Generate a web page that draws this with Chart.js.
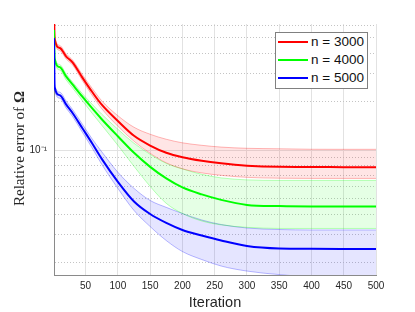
<!DOCTYPE html>
<html>
<head>
<meta charset="utf-8">
<script src="https://cdn.jsdelivr.net/npm/chart.js@4"></script>
<style>
  body { margin: 0; background: #fff; }
  #wrap { position: relative; width: 415px; height: 312px; }
  #ytitle {
    position: absolute; left: 11px; top: 87px; height: 124px; width: 16px;
    writing-mode: vertical-rl; transform: rotate(180deg);
    text-align: center; white-space: nowrap;
    font: normal 15px "Liberation Serif", serif; color: #262626;
  }
  #legend {
    position: absolute; left: 275px; top: 32px; width: 91px; height: 55px;
    border: 1px solid #808080; background: #fff;
    font: 13.5px "Liberation Sans", Arial, sans-serif; color: #111;
  }
  #legend .ln { position: absolute; left: 2px; width: 30px; height: 2px; }
  #legend .tx { position: absolute; left: 35px; line-height: 16px; white-space: nowrap; }
</style>
</head>
<body>
<div id="wrap">
  <canvas id="chart" width="415" height="312"></canvas>
  <div id="ytitle">Relative error of <b>Ω</b></div>
  <div id="legend"></div>
</div>
<script>
const iterations = [1, 2, 10, 20, 30, 45, 60, 75, 100, 125, 150, 175, 200, 230, 260, 300, 350, 400, 450, 500];

const names = ["n = 3000", "n = 4000", "n = 5000"];
const colors = ["#ff0000", "#00ff00", "#0000ff"];

const mean3000 = [0.75, 0.494, 0.432, 0.382, 0.351, 0.283, 0.231, 0.192, 0.152, 0.123, 0.107, 0.0965, 0.0905, 0.086, 0.083, 0.0803, 0.0789, 0.0787, 0.0786, 0.0785];
const upper3000 = [0.78, 0.513, 0.448, 0.396, 0.363, 0.295, 0.243, 0.203, 0.164, 0.139, 0.1258, 0.1171, 0.1113, 0.1074, 0.1047, 0.1029, 0.1022, 0.1015, 0.1014, 0.1014];
const lower3000 = [0.72, 0.477, 0.4165, 0.3687, 0.338, 0.2709, 0.22, 0.1813, 0.1411, 0.1138, 0.0958, 0.0836, 0.0767, 0.0724, 0.0699, 0.0679, 0.0671, 0.0669, 0.0669, 0.0669];

const mean4000 = [0.559, 0.3713, 0.3287, 0.2869, 0.2557, 0.2154, 0.1826, 0.156, 0.1222, 0.0965, 0.0789, 0.0669, 0.0588, 0.0532, 0.0492, 0.0458, 0.045, 0.0448, 0.0448, 0.0448];
const upper4000 = [0.57, 0.385, 0.3407, 0.2973, 0.265, 0.2248, 0.1934, 0.1676, 0.1351, 0.1106, 0.0944, 0.083, 0.0767, 0.0709, 0.0674, 0.0655, 0.065, 0.065, 0.065, 0.065];
const lower4000 = [0.55, 0.3583, 0.315, 0.2729, 0.2432, 0.2033, 0.17, 0.1431, 0.1074, 0.0795, 0.0597, 0.0468, 0.0405, 0.0364, 0.0344, 0.0332, 0.0327, 0.0327, 0.0327, 0.0327];

const mean5000 = [0.498, 0.2468, 0.22, 0.192, 0.17, 0.1371, 0.1106, 0.0885, 0.0637, 0.0481, 0.0402, 0.0354, 0.032, 0.02956, 0.02752, 0.02543, 0.02454, 0.02443, 0.0244, 0.0244];
const upper5000 = [0.51, 0.2576, 0.2297, 0.2019, 0.1787, 0.1452, 0.1179, 0.0979, 0.073, 0.058, 0.0488, 0.0442, 0.0405, 0.0369, 0.0346, 0.0329, 0.0322, 0.032, 0.032, 0.032];
const lower5000 = [0.49, 0.2364, 0.2107, 0.1826, 0.1617, 0.1294, 0.1036, 0.0818, 0.058, 0.0423, 0.0336, 0.0275, 0.0235, 0.02096, 0.0191, 0.01777, 0.0169, 0.01642, 0.0164, 0.0162];

const xTicks = [50, 100, 150, 200, 250, 300, 350, 400, 450, 500];
const yTicks = [0.02, 0.03, 0.04, 0.05, 0.06, 0.07, 0.08, 0.09, 0.1, 0.2, 0.3, 0.4, 0.5, 0.6];
const yMajor = [0.1];
const yMin = 0.0168, yMax = 0.609;

const means = [mean3000, mean4000, mean5000];
const uppers = [upper3000, upper4000, upper5000];
const lowers = [lower3000, lower4000, lower5000];

const pts = (arr) => arr.map((v, i) => ({ x: iterations[i], y: v }));
const rgba = (hex, a) => {
  const n = parseInt(hex.slice(1), 16);
  return `rgba(${n >> 16},${(n >> 8) & 255},${n & 255},${a})`;
};

// later series sit on top, as in the original plot
const datasets = [];
means.forEach((m, k) => {
  datasets.push({
    label: names[k], data: pts(m), borderColor: colors[k], borderWidth: 2,
    pointRadius: 0, fill: false, cubicInterpolationMode: "monotone", order: 2 - k
  });
});
uppers.forEach((u, k) => {
  datasets.push({
    label: names[k] + " upper", data: pts(u), borderColor: rgba(colors[k], 0.28), borderWidth: 1,
    backgroundColor: rgba(colors[k], 0.1), pointRadius: 0, fill: "+1",
    cubicInterpolationMode: "monotone", order: 10 + k
  });
  datasets.push({
    label: names[k] + " lower", data: pts(lowers[k]), borderColor: rgba(colors[k], 0.28), borderWidth: 1,
    pointRadius: 0, fill: false, cubicInterpolationMode: "monotone", order: 10 + k
  });
});

Chart.defaults.font.family = "'Liberation Sans', Arial, sans-serif";
Chart.defaults.color = "#262626";

new Chart(document.getElementById("chart"), {
  type: "line",
  data: { datasets },
  options: {
    responsive: false,
    animation: false,
    layout: { padding: { top: 24, right: 39, left: 0, bottom: 0 } },
    plugins: { legend: { display: false }, tooltip: { enabled: false } },
    scales: {
      x: {
        type: "linear", min: 1, max: 500,
        afterBuildTicks: (s) => { s.ticks = xTicks.map((v) => ({ value: v })); },
        afterFit: (s) => { s.height = 37; },
        grid: { color: "#e2e2e2", drawTicks: false },
        border: { color: "#8a8a8a" },
        ticks: { autoSkip: false, maxRotation: 0, padding: 5, font: { size: 10 } },
        title: { display: true, text: "Iteration", font: { size: 14.5 }, padding: 0 }
      },
      y: {
        type: "logarithmic", min: yMin, max: yMax, position: "left",
        afterBuildTicks: (s) => { s.ticks = yTicks.map((v) => ({ value: v })); },
        afterFit: (s) => { s.width = 54; },
        grid: {
          drawTicks: false,
          color: (c) => (c.tick && yMajor.includes(c.tick.value) ? "rgba(0,0,0,0)" : "#c4c4c4")
        },
        border: { color: "#8a8a8a", dash: [1, 2] },
        ticks: {
          autoSkip: false, padding: 7, font: { size: 10 },
          callback: (v) => (yMajor.includes(v) ? "10⁻¹" : "")
        }
      },
      y2: {
        type: "logarithmic", min: yMin, max: yMax, position: "left",
        afterBuildTicks: (s) => { s.ticks = yMajor.map((v) => ({ value: v })); },
        afterFit: (s) => { s.width = 0; },
        grid: { color: "#e2e2e2", drawTicks: false },
        border: { display: false },
        ticks: { display: false }
      }
    }
  }
});

const legend = document.getElementById("legend");
names.forEach((name, k) => {
  const cy = 9 + k * 18;
  legend.insertAdjacentHTML("beforeend",
    `<span class="ln" style="top:${cy - 1}px;background:${colors[k]}"></span>` +
    `<span class="tx" style="top:${cy - 8}px">${name}</span>`);
});
</script>
</body>
</html>
